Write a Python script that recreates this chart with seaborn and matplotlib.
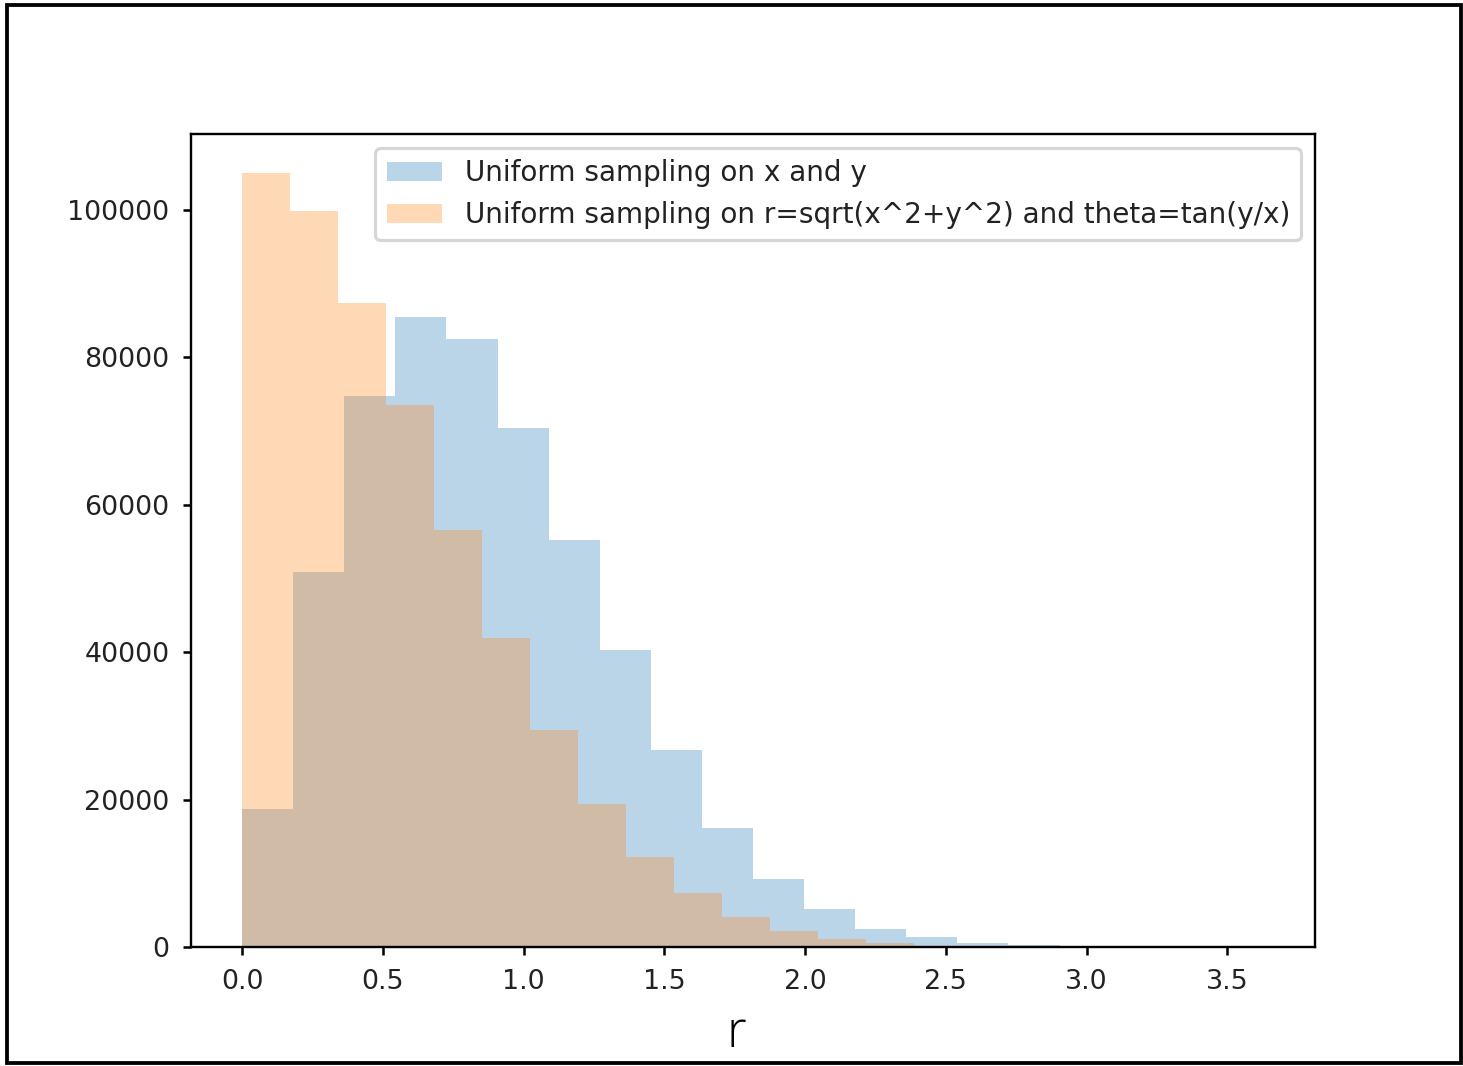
import numpy as np
import pandas as pd
import matplotlib
matplotlib.use("Agg")
import matplotlib.pyplot as plt
from matplotlib.patches import Rectangle
import seaborn as sns

# Histogram bin edges (20 equal bins each)
xy_edges = [0.0, 0.1815, 0.363, 0.5445, 0.726, 0.9075, 1.089, 1.2705, 1.452,
            1.6335, 1.815, 1.9965, 2.178, 2.3595, 2.541, 2.7225, 2.904,
            3.0855, 3.267, 3.4485, 3.63]
rt_edges = [0.0, 0.1705, 0.341, 0.5115, 0.682, 0.8525, 1.023, 1.1935, 1.364,
            1.5345, 1.705, 1.8755, 2.046, 2.2165, 2.387, 2.5575, 2.728,
            2.8985, 3.069, 3.2395, 3.41]

# Counts per bin
xy_counts = [18750, 50900, 74770, 85420, 82430, 70420, 55200, 40260, 26670,
             16070, 9280, 5160, 2450, 1360, 540, 230, 90, 30, 10, 3]
rt_counts = [105000, 99820, 87320, 73500, 56560, 41890, 29390, 19340, 12270,
             7290, 4120, 2220, 1090, 500, 200, 80, 30, 10, 4, 1]

labels = ["Uniform sampling on x and y",
          "Uniform sampling on r=sqrt(x^2+y^2) and theta=tan(y/x)"]


def centers(edges):
    e = np.asarray(edges)
    return (e[:-1] + e[1:]) / 2


df_xy = pd.DataFrame({"r": centers(xy_edges), "n": xy_counts})
df_rt = pd.DataFrame({"r": centers(rt_edges), "n": rt_counts})

plt.rcParams.update({
    "xtick.labelsize": 8.5,
    "ytick.labelsize": 8.5,
    "xtick.major.size": 2.6,
    "ytick.major.size": 2.6,
    "xtick.major.pad": 4.2,
    "ytick.major.pad": 4.2,
    "xtick.labelcolor": "#222222",
    "ytick.labelcolor": "#222222",
    "axes.linewidth": 0.75,
})

W, H, DPI = 1463, 1066, 228
fig = plt.figure(figsize=(W / DPI, H / DPI), dpi=DPI)
ax = fig.add_axes([191 / W, 1 - 947 / H, (1315 - 191) / W, (947 - 134) / H])

sns.histplot(data=df_xy, x="r", weights="n", bins=xy_edges, stat="count",
             color="#1f77b4", alpha=0.3, linewidth=0, edgecolor="none",
             label=labels[0], ax=ax)
sns.histplot(data=df_rt, x="r", weights="n", bins=rt_edges, stat="count",
             color="#ff7f0e", alpha=0.3, linewidth=0, edgecolor="none",
             label=labels[1], ax=ax)

ax.set_ylabel("")
ax.set_xlabel("r", fontsize=16, family=["Open Sans", "DejaVu Sans"],
              fontweight="light")
ax.xaxis.set_label_coords(0.485, -0.075)
leg = ax.legend(loc="upper right", fontsize=8.8)
for t in leg.get_texts():
    t.set_color("#222222")

# outer frame around the whole figure
fig.add_artist(Rectangle((7 / W, 3 / H), 1 - 9 / W, 1 - 8 / H,
                         transform=fig.transFigure, fill=False,
                         edgecolor="black", linewidth=1.2))

fig.savefig("out.png", dpi=DPI)
